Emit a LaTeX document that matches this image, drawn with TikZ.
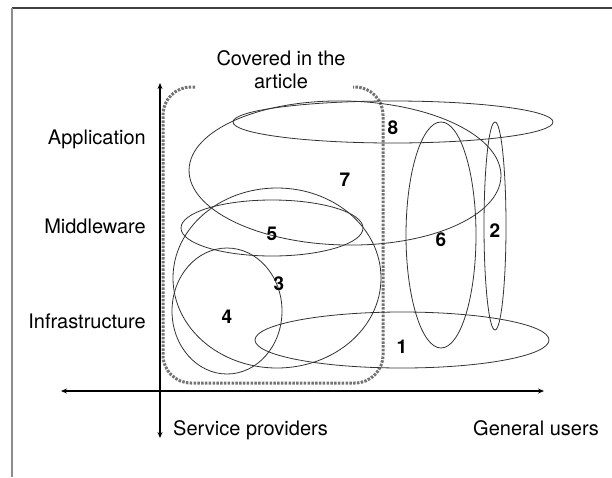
\documentclass[tikz,border=0pt]{standalone}
\usepackage{fontspec}
\setmainfont{TeX Gyre Heros}
\usetikzlibrary{arrows.meta, positioning}

\begin{document}
\begin{tikzpicture}[
    x=1pt, y=-1pt,
    layer/.style={anchor=base east, inner sep=0pt, font=\fontsize{20}{24}\selectfont},
    axislabel/.style={anchor=base west, inner sep=0pt, font=\fontsize{20}{24}\selectfont},
    num/.style={inner sep=0pt, font=\fontsize{19}{22}\selectfont\bfseries},
    area/.style={line width=0.8pt, black!80},
    axis/.style={{Stealth[length=6pt,width=5pt]}-{Stealth[length=6pt,width=5pt]}, line width=1.2pt},
    covered/.style={line width=3pt, black!55, dash pattern=on 2.5pt off 1.3pt, rounded corners=28pt}
]
\useasboundingbox (0,0) rectangle (612,477);

% Frame
\draw[line width=1.5pt, black!75] (12,8) -- (612,8);
\draw[line width=1.5pt, black!45] (12,8) -- (12,477);

% Axes
\coordinate (top) at (160,83);
\coordinate (bottom) at (160,438);
\coordinate (left) at (61,391);
\coordinate (right) at (544,391);
\draw[axis] (bottom) -- (top);
\draw[axis] (left) -- (right);

% Layer labels
\node[layer] (app) at (146,144) {Application};
\node[layer] (mid) at (146,233) {Middleware};
\node[layer] (infra) at (146,328) {Infrastructure};

\node[axislabel] (prov) at (173,435) {Service providers};
\node[axislabel] (users) at (473,435) {General users};

\node[align=center, inner sep=0pt, font=\fontsize{20}{23}\selectfont] (cov) at (281,70) {Covered in the\\article};

% Covered region
\draw[covered] (195,87) -| (163,383) -| (383,87) -- (353,87);

% Areas
\draw[area] (393,122) ellipse [x radius=160, y radius=21];
\draw[area, rotate around={-1.2:(345,173)}] (345,173) ellipse [x radius=156, y radius=72];
\draw[area] (272,228) ellipse [x radius=91, y radius=28];
\draw[area] (277,278) ellipse [x radius=104, y radius=90];
\draw[area] (227,311) ellipse [x radius=55, y radius=63];
\draw[area] (402,340) ellipse [x radius=147, y radius=28];
\draw[area] (441,235) ellipse [x radius=35, y radius=113];
\draw[area] (495,226) ellipse [x radius=11, y radius=104];

% Numbers
\node[num] (n1) at (402,347) {1};
\node[num] (n2) at (495,231) {2};
\node[num] (n3) at (279,284) {3};
\node[num] (n4) at (227,317) {4};
\node[num] (n5) at (272,234) {5};
\node[num] (n6) at (441,240) {6};
\node[num] (n7) at (345,180) {7};
\node[num] (n8) at (393,128) {8};

\end{tikzpicture}
\end{document}
